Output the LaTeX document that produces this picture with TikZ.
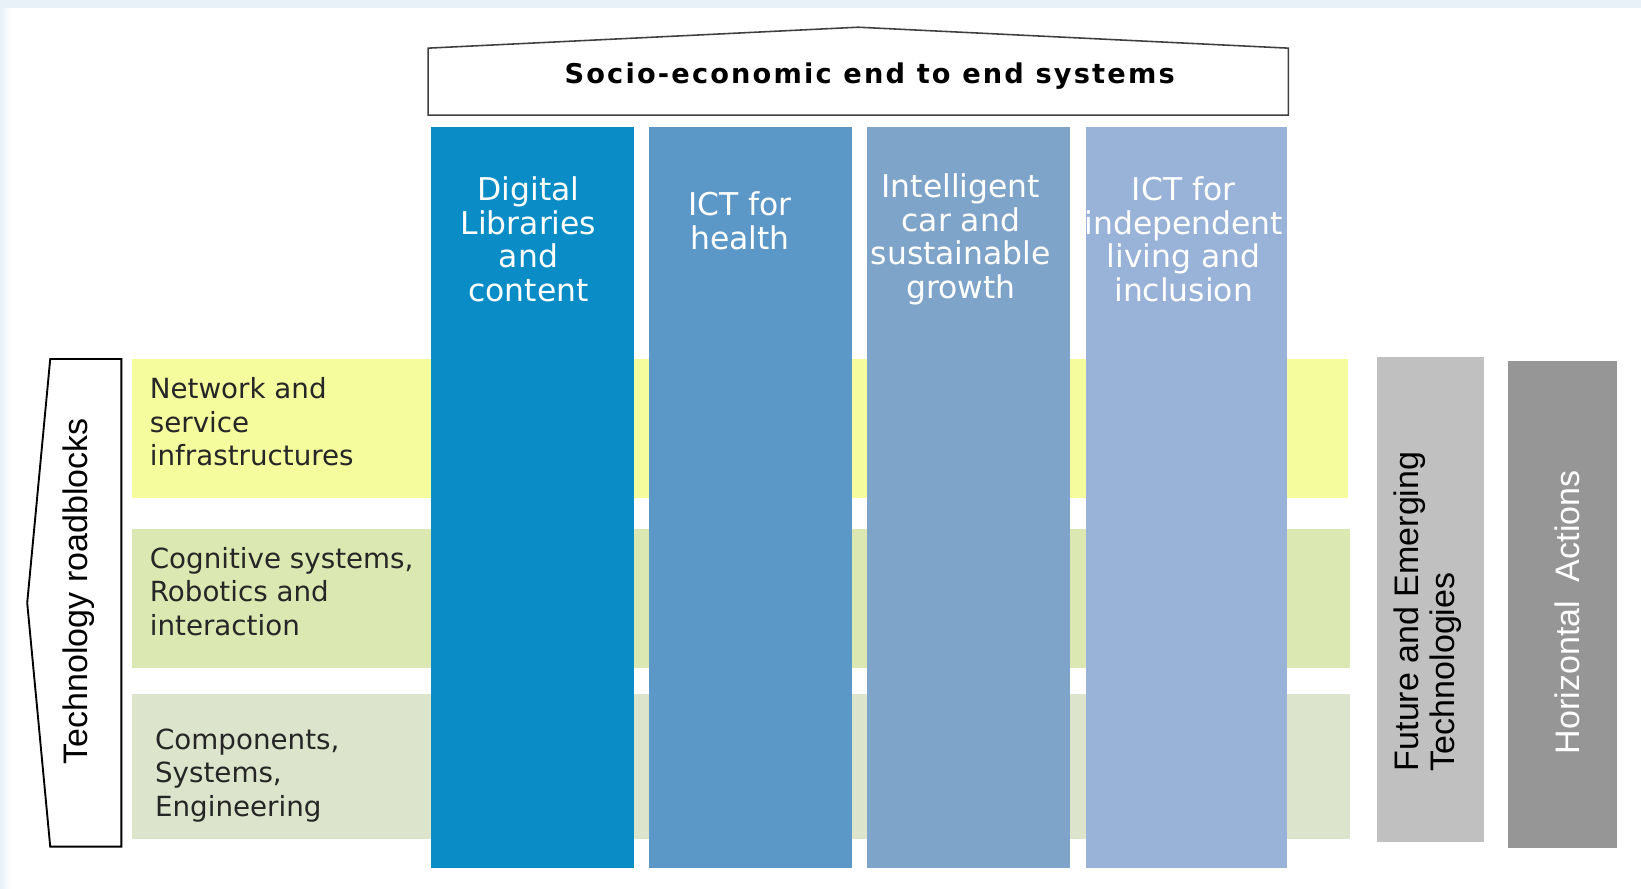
\documentclass[tikz,border=0pt]{standalone}
\usepackage{fontspec}
\setmainfont{DejaVu Sans}
\newfontfamily\arialfont{Liberation Sans}
\newfontfamily\rooffont[LetterSpace=8]{DejaVu Sans Bold}
\usetikzlibrary{positioning}
\definecolor{bgblue}{HTML}{E8F0F8}
\definecolor{colA}{HTML}{0A8DC7}
\definecolor{colB}{HTML}{5B97C7}
\definecolor{colC}{HTML}{7FA4C9}
\definecolor{colD}{HTML}{99B2D7}
\definecolor{bandA}{HTML}{F4FC9E}
\definecolor{bandB}{HTML}{DCE8B1}
\definecolor{bandC}{HTML}{DCE4CB}
\definecolor{fetgray}{HTML}{C0C0C0}
\definecolor{hagray}{HTML}{969696}

\begin{document}
\begin{tikzpicture}[x=1pt, y=-1pt,
    col/.style = {inner sep=0pt, minimum width=194pt, minimum height=708pt},
    coltext/.style = {text=white, align=center, inner sep=0pt, font=\fontsize{30}{32}\selectfont},
    band/.style = {inner sep=0pt, minimum width=1164pt, minimum height=133pt},
    bandtext/.style = {anchor=west, align=left, inner sep=0pt, text=black!85, font=\fontsize{26.5}{32}\selectfont},
    side/.style = {inner sep=0pt, minimum width=103pt, minimum height=465pt},
    sidetext/.style = {rotate=90, inner sep=0pt, font=\arialfont\fontsize{32.5}{34}\selectfont}]
    \useasboundingbox (0,0) rectangle (1568,849);
    \fill[white] (0,0) rectangle (1568,849);
    \fill[bgblue] (0,0) rectangle (1568,8);
    \shade[left color=bgblue, right color=white] (0,8) rectangle (10,849);

    % technology roadblocks (rows)
    \node[band, fill=bandA, minimum width=1162pt] (nsi) at (707,409.5) {};
    \node[band, fill=bandB] (cog) at (708,571.5) {};
    \node[band, fill=bandC, minimum height=139pt] (cse) at (708,732.5) {};
    \node[bandtext] (nsit) at (143,403) {Network and\\service\\infrastructures};
    \node[bandtext] (cogt) at (143,565) {Cognitive systems,\\Robotics and\\interaction};
    \node[bandtext] (cset) at (148,741) {Components,\\Systems,\\Engineering};

    % application columns
    \node[col, fill=colA] (dl) at (509,475) {};
    \node[col, fill=colB, right=14pt of dl] (health) {};
    \node[col, fill=colC, right=14pt of health] (car) {};
    \node[col, fill=colD, right=14pt of car, minimum width=193pt] (living) {};
    \node[coltext] (dlt) at (505,228.5) {Digital\\Libraries\\and\\content};
    \node[coltext] (healtht) at (707,211) {ICT for\\health};
    \node[coltext] (cart) at (918,228.5) {Intelligent\\car and\\sustainable\\growth};
    \node[coltext] (livingt) at (1131,228.5) {ICT for\\independent\\living and\\inclusion};

    % roof
    \node[inner sep=0pt, font=\rooffont\fontsize{26}{28}\selectfont] (roof) at (831,73) {Socio-economic end to end systems};
    \draw[black!75, line width=1.5pt] (409,110) -- (409,46) -- (820,26) -- (1231,46) -- (1231,110) -- cycle;

    % left arrow
    \draw[black, line width=1.8pt] (116,343) -- (48,343) -- (26,576) -- (48,809) -- (116,809) -- cycle;
    \node[sidetext] (tr) at (75,565) {Technology roadblocks};

    % side boxes
    \node[side, fill=fetgray, minimum width=102pt, minimum height=464pt] (fet) at (1367,573) {};
    \node[side, fill=hagray, minimum width=104pt] (ha) at (1493,577.5) {};
    \node[sidetext, anchor=west, align=left] (fett) at (1364,737) {Future and Emerging\\Technologies};
    \node[sidetext, text=white] (hat) at (1498,585) {Horizontal\ \ Actions};
\end{tikzpicture}
\end{document}
